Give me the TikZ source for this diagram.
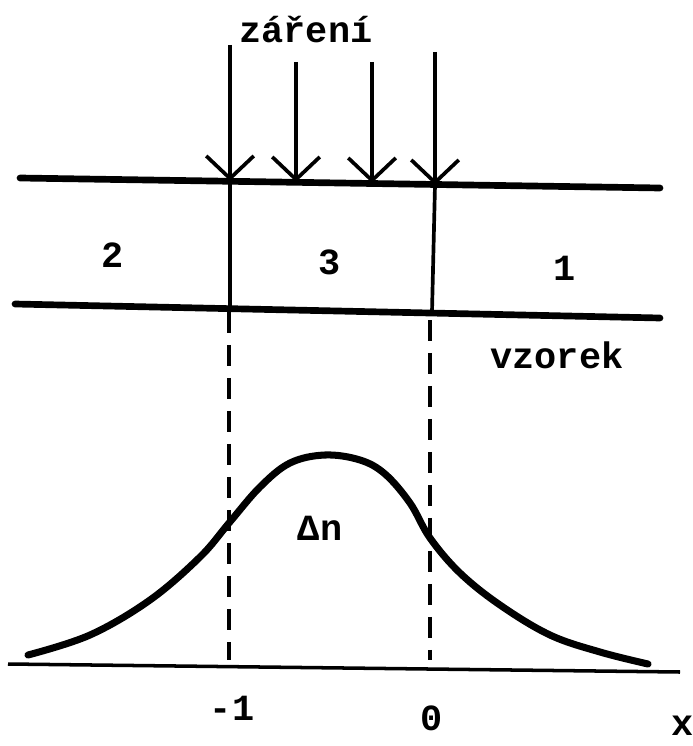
\documentclass[tikz,border=0pt]{standalone}
\usepackage{fontspec}
\setmonofont{Liberation Mono}
\usetikzlibrary{arrows.meta}

\begin{document}
\begin{tikzpicture}[x=0.02cm,y=-0.02cm,>={Straight Barb[length=0.45cm,width=0.95cm]}]
  \tikzstyle{lbl}=[font=\ttfamily\bfseries\fontsize{21}{24}\selectfont,inner sep=0pt]
  \tikzstyle{edge}=[line width=3.8pt,line cap=round]
  \tikzstyle{ray}=[line width=2.1pt]
  \tikzstyle{guide}=[line width=1.9pt,dash pattern=on 0.42cm off 0.24cm]
  \useasboundingbox (0,0) rectangle (692,746);
  % sample
  \coordinate (tl) at (20,178);
  \coordinate (tr) at (660,188);
  \coordinate (bl) at (15,304);
  \coordinate (br) at (660,318);
  \draw[edge] (tl) -- (tr);
  \draw[edge] (bl) -- (br);
  % radiation
  \coordinate (a1) at (230,45);  \coordinate (h1) at (230,181);
  \coordinate (a2) at (296,62);  \coordinate (h2) at (296,182);
  \coordinate (a3) at (372,62);  \coordinate (h3) at (372,183);
  \coordinate (a4) at (435,52);  \coordinate (h4) at (435,185);
  \coordinate (f1) at (230,307); \coordinate (f4) at (432,312);
  \foreach \i in {1,...,4}
    \draw[ray,->] (a\i) -- (h\i);
  \draw[ray] (h1) -- (f1);
  \draw[ray] (h4) -- (f4);
  % borders down to the axis
  \coordinate (d1) at (229,660);
  \coordinate (d4) at (430,660);
  \draw[guide] (229,312) -- (d1);
  \draw[guide] (430,320) -- (d4);
  % axis
  \coordinate (xl) at (8,664);
  \coordinate (xr) at (680,672);
  \draw[line width=2pt] (xl) -- (xr);
  % profile
  \draw[line width=4pt,line cap=round] plot[smooth,tension=0.6] coordinates {
    (28,655) (90,635) (150,600) (200,557) (229,523) (260,487) (290,463)
    (325,455) (360,460) (385,474) (410,503) (430,538) (460,573)
    (500,605) (550,635) (600,652) (648,664)};
  % labels
  \node[lbl] (zar) at (306,30) {záření};
  \node[lbl] (r2) at (113,255) {2};
  \node[lbl] (r3) at (330,262) {3};
  \node[lbl] (r1) at (565,268) {1};
  \node[lbl] (vz) at (557,355) {vzorek};
  \node[lbl] (dn) at (320,528) {Δn};
  \node[lbl] (m1) at (232,708) {-1};
  \node[lbl] (z0) at (432,718) {0};
  \node[lbl] (xx) at (683,726) {x};
\end{tikzpicture}
\end{document}
